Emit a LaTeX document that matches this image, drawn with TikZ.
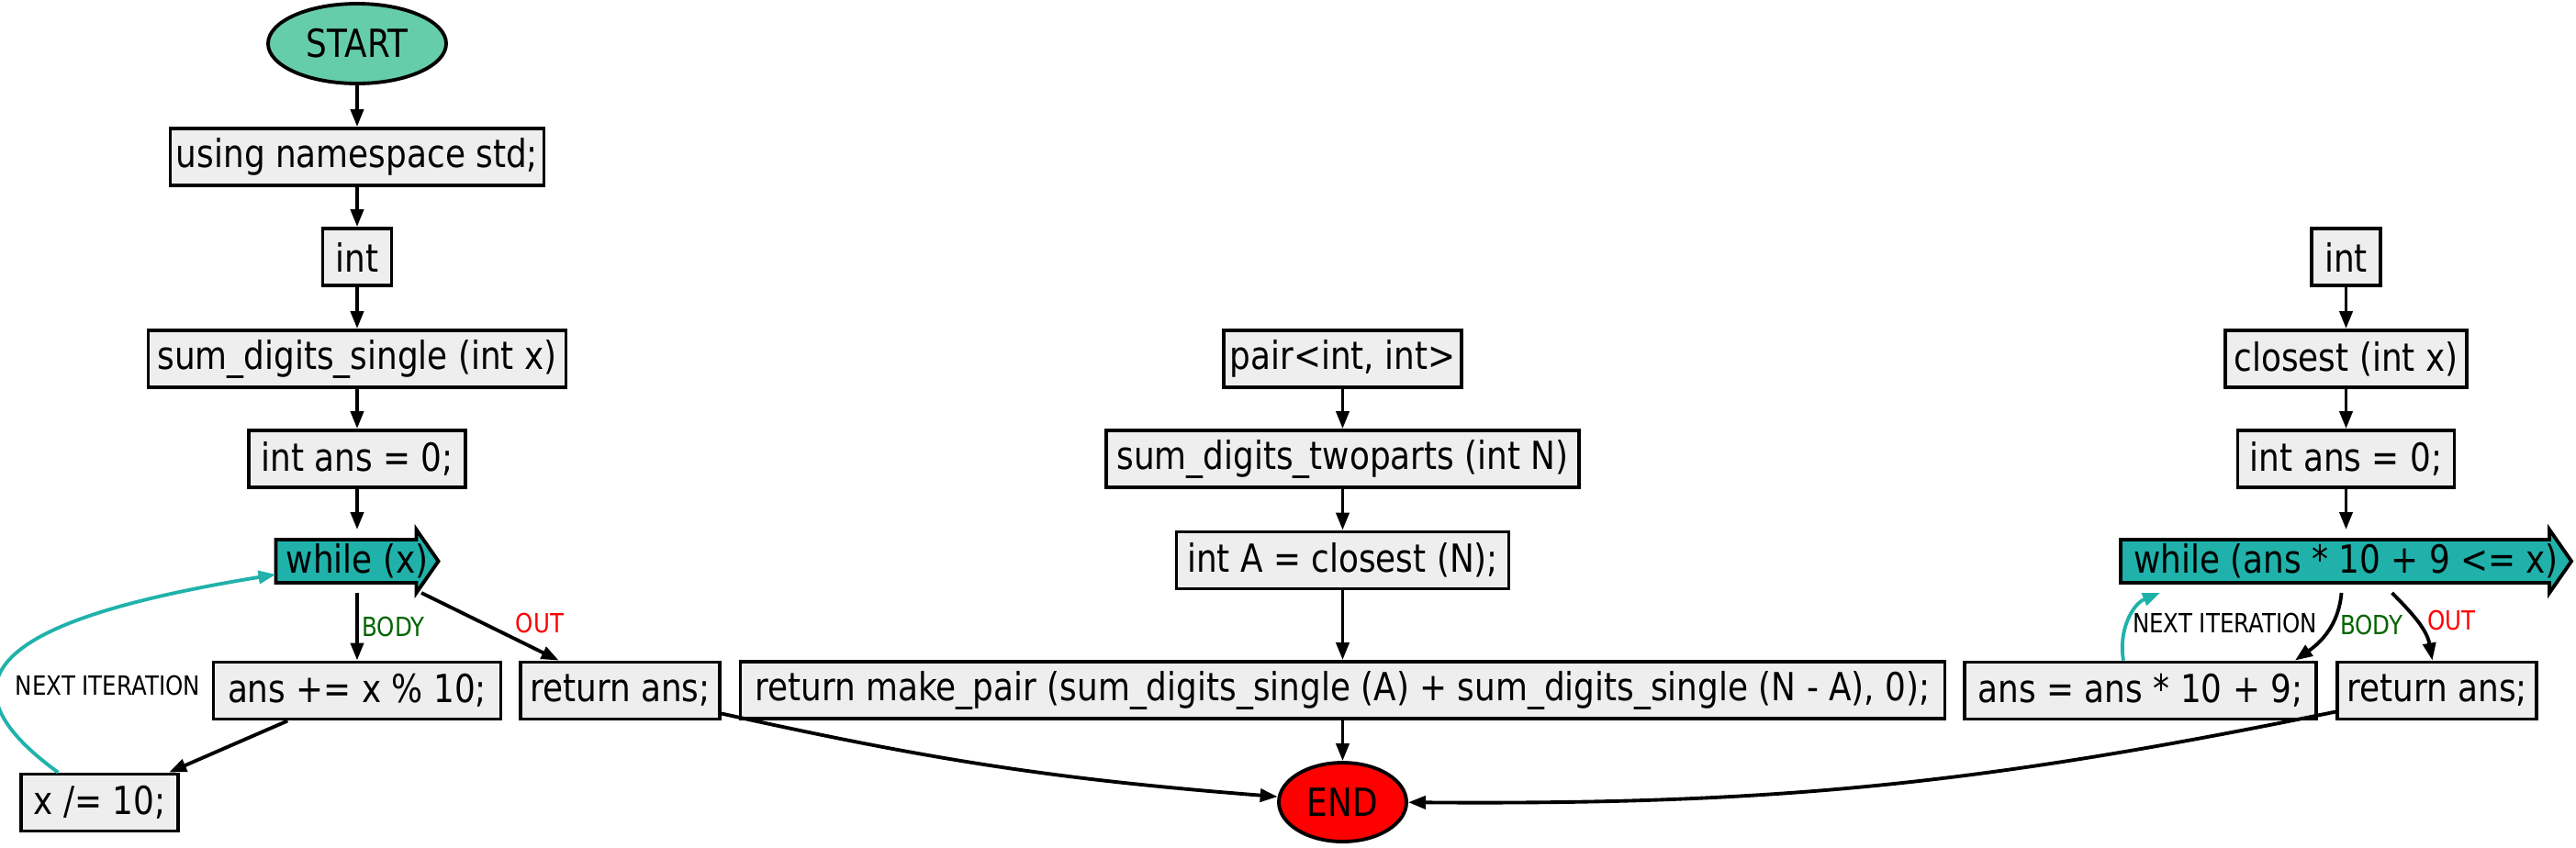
\documentclass[tikz,border=0pt]{standalone}
\usepackage{fontspec}
\setmainfont{DejaVu Sans}[FakeStretch=0.85]
\usepackage{xcolor}
\usepackage{tikz}
\usetikzlibrary{arrows.meta,positioning,shapes.geometric,backgrounds}
\definecolor{boxgray}{HTML}{EEEEEE}
\definecolor{startgreen}{HTML}{66CDAA}
\definecolor{loopteal}{HTML}{20B2AA}
\definecolor{bodygreen}{HTML}{006400}
\newcommand{\codefont}{\fontsize{12pt}{14pt}\selectfont}
\newcommand{\lblfont}{\fontsize{8.2pt}{10pt}\selectfont}
\tikzset{
  stmt/.style    ={rectangle,draw,fill=boxgray,line width=1.1pt,minimum height=0.62cm,inner xsep=0.04cm,inner ysep=0pt,font=\codefont},
  term/.style    ={ellipse,draw,line width=1.1pt,inner sep=0pt,font=\codefont},
  loopbox/.style ={rectangle,minimum height=0.69cm,inner xsep=0.04cm,outer sep=0pt,font=\codefont},
  loopshape/.style={draw,fill=loopteal,line width=1.1pt},
  flow/.style    ={-{Triangle[length=0.19cm,width=0.14cm]},line width=1.1pt},
  iterflow/.style={flow,draw=loopteal},
  bodylbl/.style ={font=\lblfont,text=bodygreen,inner sep=1pt},
  outlbl/.style  ={font=\lblfont,text=red,inner sep=1pt},
  iterlbl/.style ={font=\lblfont,inner sep=1pt},
}
\begin{document}
\begin{tikzpicture}
  \useasboundingbox (0,0) rectangle (28.06,-9.23);
  % left function
  \node[term,fill=startgreen,minimum width=1.94cm,minimum height=0.87cm] (start) at (3.89,-0.475) {START};
  \node[stmt,minimum width=4.07cm] (using) at (3.89,-1.71)  {using namespace std;};
  \node[stmt,minimum width=0.75cm] (int1)  at (3.89,-2.80)  {int};
  \node[stmt,minimum width=4.55cm] (sum1)  at (3.89,-3.91)  {sum\_digits\_single (int x)};
  \node[stmt,minimum width=2.36cm] (ans1)  at (3.89,-5.00)  {int ans = 0;};
  \node[loopbox,minimum width=1.77cm] (w1) at (3.89,-6.115) {while (x)};
  \node[stmt,minimum width=3.13cm] (b1)    at (3.89,-7.525) {ans += x \% 10;};
  \node[stmt,minimum width=1.71cm] (x1)    at (1.085,-8.745) {x /= 10;};
  \node[stmt,minimum width=2.17cm] (r1)    at (6.755,-7.525) {return ans;};
  % middle function
  \node[stmt,minimum width=2.59cm] (pair)  at (14.625,-3.91) {pair<int, int>};
  \node[stmt,minimum width=5.15cm] (two)   at (14.625,-5.00) {sum\_digits\_twoparts (int N)};
  \node[stmt,minimum width=3.62cm] (intA)  at (14.625,-6.105) {int A = closest (N);};
  \node[stmt,minimum width=13.12cm] (mkpair) at (14.625,-7.52) {return make\_pair (sum\_digits\_single (A) + sum\_digits\_single (N - A), 0);};
  \node[term,fill=red,minimum width=1.39cm,minimum height=0.86cm] (end) at (14.625,-8.74) {END};
  % right function
  \node[stmt,minimum width=0.75cm] (int2)  at (25.555,-2.80) {int};
  \node[stmt,minimum width=2.63cm] (cl)    at (25.555,-3.91) {closest (int x)};
  \node[stmt,minimum width=2.36cm] (ans2)  at (25.555,-5.00) {int ans = 0;};
  \node[loopbox,minimum width=4.91cm] (w2) at (25.555,-6.115) {while (ans * 10 + 9 <= x)};
  \node[stmt,minimum width=3.83cm] (a2)    at (23.315,-7.525) {ans = ans * 10 + 9;};
  \node[stmt,minimum width=2.17cm] (r2)    at (26.545,-7.525) {return ans;};
  % loop heads
  \begin{scope}[on background layer]
    \foreach \n in {w1,w2}
      \draw[loopshape] ([yshift=-1.1mm]\n.north west) -- ([xshift=-2.4mm,yshift=-1.1mm]\n.north east)
        -- ([xshift=-2.4mm]\n.north east) -- (\n.east) -- ([xshift=-2.4mm]\n.south east)
        -- ([xshift=-2.4mm,yshift=1.1mm]\n.south east) -- ([yshift=1.1mm]\n.south west) -- cycle;
  \end{scope}
  % edges
  \draw[flow] (start) -- (using);
  \draw[flow] (using) -- (int1);
  \draw[flow] (int1) -- (sum1);
  \draw[flow] (sum1) -- (ans1);
  \draw[flow] (ans1) -- (w1);
  \draw[flow] (w1) -- node[bodylbl,right] {BODY} (b1);
  \draw[flow] (w1) -- node[outlbl,pos=0.45,right=0.3cm] {OUT} (r1);
  \draw[flow] (b1) -- (x1);
  \draw[iterflow] (x1) .. controls (-0.90,-7.30) and (0.30,-6.70) .. node[iterlbl,pos=0.33,right=0.15cm] {NEXT ITERATION} (w1);
  \draw[flow] (r1) to[bend right=4] (end);
  \draw[flow] (pair) -- (two);
  \draw[flow] (two) -- (intA);
  \draw[flow] (intA) -- (mkpair);
  \draw[flow] (mkpair) -- (end);
  \draw[flow] (int2) -- (cl);
  \draw[flow] (cl) -- (ans2);
  \draw[flow] (ans2) -- (w2);
  \draw[flow] ([xshift=-0.05cm]w2.south) to[out=-95,in=35] node[bodylbl,pos=0.4,right=0.04cm] {BODY} ([xshift=-0.25cm]a2.north east);
  \draw[flow] ([xshift=0.5cm]w2.south) to[out=-45,in=100] node[outlbl,pos=0.45,right=0.07cm] {OUT} ([xshift=-0.05cm]r2.north);
  \draw[iterflow] ([xshift=-0.185cm]a2.north) to[out=100,in=202] node[iterlbl,pos=0.45,right] {NEXT ITERATION} ([xshift=0.43cm]w2.south west);
  \draw[flow] (r2) to[bend left=6] (end);
\end{tikzpicture}
\end{document}
